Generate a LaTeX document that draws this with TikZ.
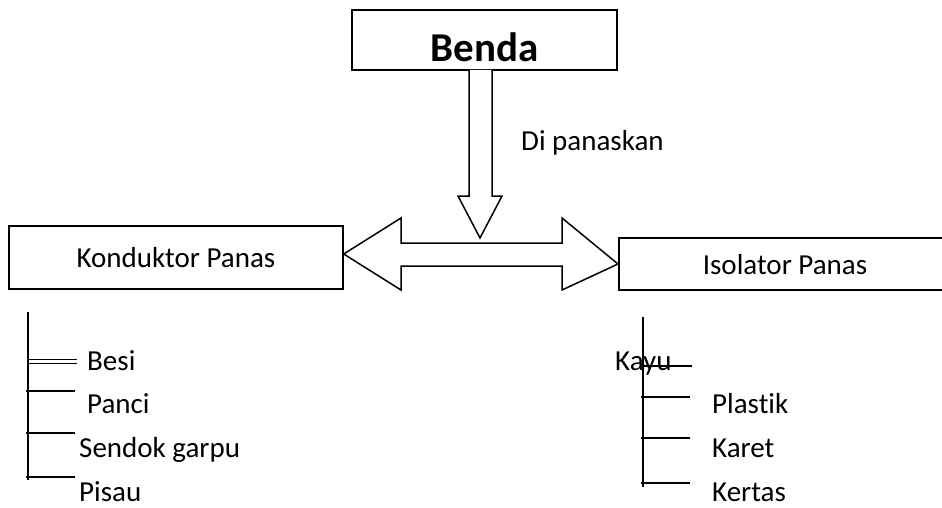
\documentclass[tikz,border=0pt]{standalone}
\usepackage{fontspec}
\setmainfont{Carlito}[Ligatures=NoCommon]
\usetikzlibrary{arrows}

\begin{document}
\begin{tikzpicture}[x=1pt, y=1pt, >=stealth]
		\tikzstyle{box} = [draw, line width=1.5pt, rectangle, inner sep=0pt]
		\tikzstyle{txt} = [inner sep=0pt, font=\fontsize{29}{34}\selectfont]
		\tikzstyle{item} = [txt, anchor=base west]
		\tikzstyle{tick} = [line width=1.5pt]
		\tikzstyle{block} = [draw, line width=1.5pt, fill=white, line join=miter]

		\useasboundingbox (0,0) rectangle (942,507);

		% boxes
		\node[box, minimum width=265pt, text height=52pt, text depth=8pt, anchor=base,
			font=\fontsize{41}{48}\selectfont\bfseries] (benda) at (484.5,445) {Benda};
		\node[box, txt, minimum width=334pt, minimum height=63pt] (kond) at (176,249.5) {Konduktor Panas};
		\node[box, minimum width=330pt, minimum height=52pt, anchor=west] (iso) at (618,243) {};
		\node[txt] (isotxt) at (785,242) {Isolator Panas};
		\node[item] (panas) at (521,356) {Di panaskan};

		% block arrows
		\draw[block] (469,437) -- (469,311) -- (458,311) -- (480,269) -- (502,311)
			-- (492,311) -- (492,437);
		\draw[block] (kond.east |- 0,253) -- (401,289) -- (401,264) -- (562,264) -- (562,289)
			-- (iso.west) -- (562,217) -- (562,241) -- (401,241) -- (401,217) -- cycle;

		% konduktor list
		\path
		node[item] (besi) at (87,137) {Besi}
		node[item] (panci) at (87,94) {Panci}
		node[item] (sendok) at (79,50) {Sendok garpu}
		node[item] (pisau) at (79,6) {Pisau}
		coordinate (k0) at (28,195)
		coordinate (k1) at (28,27);
		\draw[tick] (k0) -- (k1);
		\draw[line width=1pt] (28,148) -- (77,148);
		\draw[line width=1pt] (28,144) -- (77,144);
		\foreach \y in {116,74,30}
			\draw[tick] (26,\y) -- (75,\y);

		% isolator list
		\path
		node[item] (kayu) at (615,137) {Kayu}
		node[item] (plastik) at (712,94) {Plastik}
		node[item] (karet) at (712,50) {Karet}
		node[item] (kertas) at (712,6) {Kertas}
		coordinate (i0) at (643,190)
		coordinate (i1) at (643,20);
		\draw[tick] (i0) -- (i1);
		\draw[tick] (643,141) -- (692,141);
		\foreach \y in {110,69,24}
			\draw[tick] (641,\y) -- (690,\y);
\end{tikzpicture}
\end{document}
